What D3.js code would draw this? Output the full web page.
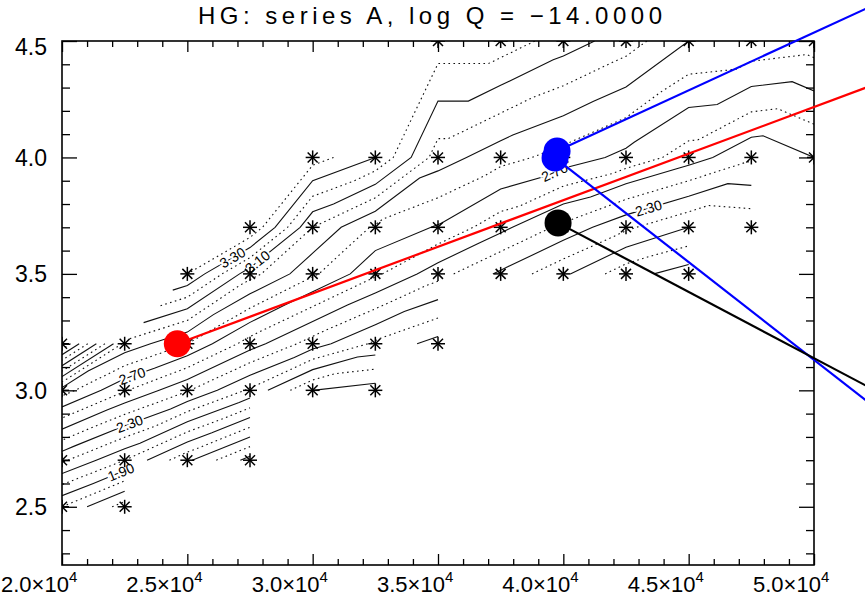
<!DOCTYPE html>
<html>
<head>
<meta charset="utf-8">
<script src="https://cdn.jsdelivr.net/npm/d3@7"></script>
<style>
  body { margin: 0; background: #fff; }
  svg { display: block; }
  text { font-family: "Liberation Sans", "DejaVu Sans", sans-serif; fill: #000; }
</style>
</head>
<body>
<svg id="chart" width="865" height="604"></svg>
<script>
// ---- model grid -----------------------------------------------------------
const teffGrid = [20000, 22500, 25000, 27500, 30000, 32500, 35000, 37500, 40000, 42500, 45000, 47500, 50000];
const loggGrid = [2.5, 2.7, 3.0, 3.2, 3.5, 3.7, 4.0, 4.5];

// contoured quantity per log g row (one value per Teff column, null = no model)
const zLogg25 = [1.80, 1.55, null, null, null, null, null, null, null, null, null, null, null];
const zLogg27 = [2.22, 2.00, 1.72, 1.46, null, null, null, null, null, null, null, null, null];
const zLogg30 = [2.85, 2.61, 2.41, 2.18, 1.90, 1.85, null, null, null, null, null, null, null];
const zLogg32 = [3.70, 2.97, 2.80, 2.55, 2.35, 2.18, 2.06, null, null, null, null, null, null];
const zLogg35 = [null, null, 3.40, 3.04, 2.82, 2.62, 2.44, 2.28, 2.12, 1.94, 1.85, null, null];
const zLogg37 = [null, null, null, 3.50, 3.00, 2.78, 2.69, 2.53, 2.37, 2.22, 2.10, 2.12, null];
const zLogg40 = [null, null, null, null, 3.45, 3.30, 2.95, 2.84, 2.76, 2.67, 2.55, 2.42, 2.50];
const zLogg45 = [null, null, null, null, null, null, 3.26, 3.26, 3.15, 3.05, 2.90, 2.88, 2.85];
const zRows = [zLogg25, zLogg27, zLogg30, zLogg32, zLogg35, zLogg37, zLogg40, zLogg45];

const contourLevels = [1.2, 1.3, 1.4, 1.5, 1.6, 1.7, 1.8, 1.9, 2.0, 2.1, 2.2, 2.3, 2.4, 2.5, 2.6,
                       2.7, 2.8, 2.9, 3.0, 3.1, 3.2, 3.3, 3.4, 3.5, 3.6, 3.7, 3.8, 3.9, 4.0];

// labelled contours: level and the Teff at which the label sits
const labelLevels = [1.9, 2.3, 2.7, 3.3, 3.1, 2.7, 2.3];
const labelTeff   = [22350, 22700, 22800, 26800, 27800, 39650, 43400];

// highlighted models and the far ends of their leader lines
const markTeff  = [24600, 39750, 39670, 39790];
const markLogg  = [3.20, 4.028, 3.998, 3.719];
const markColor = ["#ff0000", "#0000ff", "#0000ff", "#000000"];
const leadTeff  = [52630, 53430, 53430, 53430];
const leadLogg  = [4.322, 4.706, 2.843, 2.943];

// axes
const xMajor = [20000, 25000, 30000, 35000, 40000, 45000, 50000];
const xMajorLabels = ["2.0", "2.5", "3.0", "3.5", "4.0", "4.5", "5.0"];
const yMajor = [2.5, 3.0, 3.5, 4.0, 4.5];
const yMajorLabels = ["2.5", "3.0", "3.5", "4.0", "4.5"];

const titleText = "HG: series A, log Q = \u221214.0000";

// ---- layout ----------------------------------------------------------------
const plot = { left: 62, right: 814, top: 41, bottom: 565 };
const svg = d3.select("#chart");
const x = d3.scaleLinear().domain([20000, 50000]).range([plot.left, plot.right]);
const y = d3.scaleLinear().domain([2.25, 4.5]).range([plot.bottom, plot.top]);

svg.append("defs").append("clipPath").attr("id", "plotClip")
  .append("rect")
  .attr("x", plot.left).attr("y", plot.top)
  .attr("width", plot.right - plot.left).attr("height", plot.bottom - plot.top);

// grid index -> data value (piecewise linear along the model grid)
const colIdx = d3.scaleLinear().domain(d3.range(teffGrid.length)).range(teffGrid);
const rowIdx = d3.scaleLinear().domain(d3.range(loggGrid.length)).range(loggGrid);

// ---- triangulated grid -----------------------------------------------------
// each grid cell is split along its rising diagonal; cells missing one corner
// keep the triangle of the three models present (except a missing lower-right)
const nC = teffGrid.length, nR = loggGrid.length;
const triangles = [];
for (let j = 0; j < nR - 1; j++) {
  for (let i = 0; i < nC - 1; i++) {
    const a = [i, j], b = [i + 1, j], c = [i + 1, j + 1], d = [i, j + 1];
    const has = p => zRows[p[1]][p[0]] != null;
    const n = [a, b, c, d].filter(has).length;
    if (n === 4) { triangles.push([a, b, c], [a, c, d]); }
    else if (n === 3) {
      if (!has(d)) triangles.push([a, b, c]);
      else if (!has(a)) triangles.push([b, c, d]);
      else if (!has(c)) triangles.push([a, b, d]);
    }
  }
}

function isoLines(level) {
  const segs = [];
  const vid = p => p[1] * nC + p[0];
  triangles.forEach(tri => {
    const pts = [];
    for (let e = 0; e < 3; e++) {
      const p = tri[e], q = tri[(e + 1) % 3];
      const vp = zRows[p[1]][p[0]], vq = zRows[q[1]][q[0]];
      if ((vp >= level) !== (vq >= level)) {
        const t = (level - vp) / (vq - vp);
        const k1 = vid(p), k2 = vid(q);
        pts.push({
          key: Math.min(k1, k2) + "-" + Math.max(k1, k2),
          gi: p[0] + t * (q[0] - p[0]),
          gj: p[1] + t * (q[1] - p[1])
        });
      }
    }
    if (pts.length === 2) segs.push(pts);
  });
  // chain the triangle segments into polylines
  const byKey = new Map();
  segs.forEach((s, k) => s.forEach(p => {
    if (!byKey.has(p.key)) byKey.set(p.key, []);
    byKey.get(p.key).push(k);
  }));
  const used = new Array(segs.length).fill(false);
  const lines = [];
  const extend = (line, tail) => {
    while (true) {
      const end = tail ? line[line.length - 1] : line[0];
      const next = (byKey.get(end.key) || []).find(k => !used[k]);
      if (next === undefined) break;
      used[next] = true;
      const s = segs[next];
      const other = s[0].key === end.key ? s[1] : s[0];
      if (tail) line.push(other); else line.unshift(other);
    }
  };
  segs.forEach((s, k) => {
    if (used[k]) return;
    used[k] = true;
    const line = [s[0], s[1]];
    extend(line, true);
    extend(line, false);
    lines.push(line.map(p => ({ teff: colIdx(p.gi), logg: rowIdx(p.gj) })));
  });
  return lines;
}

const lineGen = d3.line().x(p => x(p.teff)).y(p => y(p.logg));

const contourLayer = svg.append("g").attr("clip-path", "url(#plotClip)");
const contourSets = contourLevels.map(level => ({ level, lines: isoLines(level) }));
contourSets.forEach(set => {
  const solid = Math.round(set.level * 10) % 2 === 1;
  set.lines.forEach(line => {
    contourLayer.append("path")
      .attr("d", lineGen(line))
      .attr("fill", "none")
      .attr("stroke", "#111")
      .attr("stroke-width", 1.1)
      .attr("stroke-dasharray", solid ? null : "1.6,3.4");
  });
});

// contour labels, laid along the line they name
labelLevels.forEach((level, k) => {
  const set = contourSets.find(s => Math.abs(s.level - level) < 1e-6);
  if (!set) return;
  const px = x(labelTeff[k]);
  let best = null;
  set.lines.forEach(line => {
    for (let m = 0; m < line.length - 1; m++) {
      const x0 = x(line[m].teff), x1 = x(line[m + 1].teff);
      if ((px - x0) * (px - x1) <= 0 && x0 !== x1) {
        const t = (px - x0) / (x1 - x0);
        const y0 = y(line[m].logg), y1 = y(line[m + 1].logg);
        let ang = Math.atan2(y1 - y0, x1 - x0) * 180 / Math.PI;
        if (ang > 90) ang -= 180;
        if (ang < -90) ang += 180;
        best = { py: y0 + t * (y1 - y0), ang };
      }
    }
  });
  if (!best) return;
  contourLayer.append("text")
    .attr("transform", `translate(${px},${best.py}) rotate(${best.ang})`)
    .attr("text-anchor", "middle")
    .attr("dy", "0.35em")
    .attr("font-size", 14)
    .attr("stroke", "#fff").attr("stroke-width", 4).attr("paint-order", "stroke")
    .text(level.toFixed(2));
});

// ---- model grid points (asterisks) -------------------------------------------
const nodes = [];
zRows.forEach((row, j) => row.forEach((v, i) => {
  if (v != null) nodes.push({ teff: teffGrid[i], logg: loggGrid[j] });
}));
const starLayer = svg.append("g").attr("clip-path", "url(#plotClip)");
const star = starLayer.selectAll("g").data(nodes).join("g")
  .attr("transform", d => `translate(${x(d.teff)},${y(d.logg)})`)
  .attr("stroke", "#000").attr("stroke-width", 1.5);
star.append("line").attr("x1", -7).attr("x2", 7).attr("y1", 0).attr("y2", 0);
star.append("line").attr("x1", 0).attr("x2", 0).attr("y1", -7).attr("y2", 7);
star.append("line").attr("x1", -5).attr("x2", 5).attr("y1", -5).attr("y2", 5);
star.append("line").attr("x1", -5).attr("x2", 5).attr("y1", 5).attr("y2", -5);

// ---- frame and ticks --------------------------------------------------------
const xMinor = d3.range(20000, 50001, 1000).filter(v => v % 5000 !== 0);
const yMinor = d3.range(23, 46, 1).map(v => v / 10).filter(v => Math.round(v * 10) % 5 !== 0);

function tickAxis(axisFn, scale, values, size, transform) {
  svg.append("g").attr("transform", transform)
    .call(axisFn(scale).tickValues(values).tickSizeInner(-size).tickSizeOuter(0).tickFormat(""))
    .call(g => g.select(".domain").remove())
    .call(g => g.selectAll("line").attr("stroke", "#000").attr("stroke-width", 1.3));
}
tickAxis(d3.axisBottom, x, xMajor, 11, `translate(0,${plot.bottom})`);
tickAxis(d3.axisBottom, x, xMinor, 6, `translate(0,${plot.bottom})`);
tickAxis(d3.axisTop, x, xMajor, 11, `translate(0,${plot.top})`);
tickAxis(d3.axisTop, x, xMinor, 6, `translate(0,${plot.top})`);
tickAxis(d3.axisLeft, y, yMajor, 15, `translate(${plot.left},0)`);
tickAxis(d3.axisLeft, y, yMinor, 8, `translate(${plot.left},0)`);
tickAxis(d3.axisRight, y, yMajor, 15, `translate(${plot.right},0)`);
tickAxis(d3.axisRight, y, yMinor, 8, `translate(${plot.right},0)`);

svg.append("rect")
  .attr("x", plot.left).attr("y", plot.top)
  .attr("width", plot.right - plot.left).attr("height", plot.bottom - plot.top)
  .attr("fill", "none").attr("stroke", "#000").attr("stroke-width", 1.6);

// tick labels (the top one is kept clear of the frame corner)
const xl = svg.append("g").selectAll("text").data(xMajor).join("text")
  .attr("x", d => x(d) - 61).attr("y", 592)
  .attr("font-size", 22);
xl.append("tspan").text((d, i) => xMajorLabels[i] + "\u00d710");
xl.append("tspan").attr("dy", -10).attr("font-size", 15).text("4");

svg.append("g").selectAll("text").data(yMajor).join("text")
  .attr("x", 47).attr("y", d => Math.max(y(d), plot.top + 6))
  .attr("dy", "0.36em").attr("text-anchor", "end")
  .attr("font-size", 23)
  .text((d, i) => yMajorLabels[i]);

svg.append("text")
  .attr("x", 430).attr("y", 24)
  .attr("text-anchor", "middle").attr("font-size", 24)
  .attr("textLength", 464).attr("lengthAdjust", "spacing")
  .text(titleText);

// ---- highlighted models with leader lines -----------------------------------
const marks = markTeff.map((t, i) => ({
  t, g: markLogg[i], c: markColor[i], t2: leadTeff[i], g2: leadLogg[i]
}));
svg.append("g").selectAll("line").data(marks).join("line")
  .attr("x1", d => x(d.t)).attr("y1", d => y(d.g))
  .attr("x2", d => x(d.t2)).attr("y2", d => y(d.g2))
  .attr("stroke", d => d.c).attr("stroke-width", 2.2);
svg.append("g").selectAll("circle").data(marks).join("circle")
  .attr("cx", d => x(d.t)).attr("cy", d => y(d.g))
  .attr("r", 13.5).attr("fill", d => d.c);
</script>
</body>
</html>
